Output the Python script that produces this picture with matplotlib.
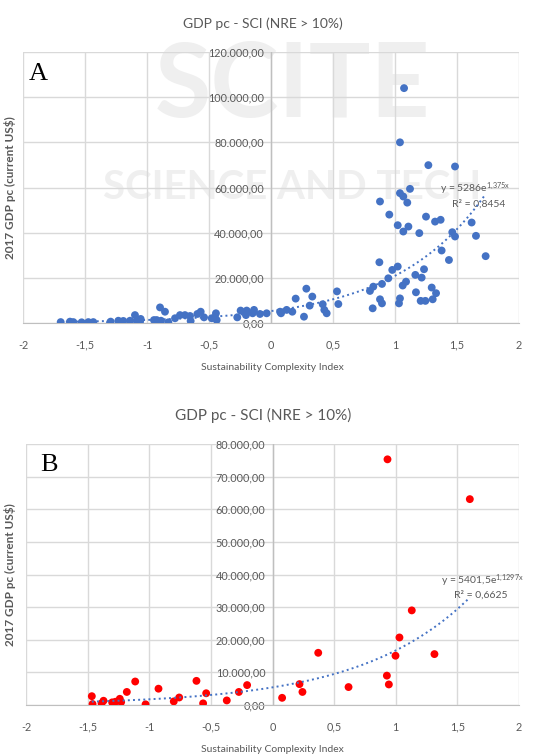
import numpy as np
import matplotlib.pyplot as plt
import matplotlib.transforms as mt
from matplotlib.ticker import FuncFormatter

# Panel A - NRE > 10%, all countries (blue)
sci_a = [1.073, 1.040, 1.269, 1.484, 1.121, 1.040, 1.067, 0.879, 1.099, 0.954,
         1.250, 1.323, 1.368, 1.618, 1.022, 1.108, 1.067, 1.196, 1.462, 1.484,
         1.653, 1.376, 1.435, 1.731, 0.874, 1.022, 0.978, 1.234, 0.946, 1.164,
         1.215, 0.895, 1.089, 1.062, 0.825, 0.798, 1.296, 1.169, 1.331, 1.040,
         0.879, 0.895, 1.032, 1.207, 1.245, 1.304, 0.820, 0.285, 0.333, 0.199,
         0.312, 0.266, 0.532, 0.543, 0.417, 0.430, 0.449, 0.073, 0.081, 0.126,
         0.172, -0.035, -0.089, -0.137, -0.196, -0.245, -0.272, -0.202, -0.148, -0.444,
         -0.452, -0.438, -0.478, -0.567, -0.594, -0.540, -0.653, -0.648, -0.694, -0.734,
         -0.774, -0.855, -0.895, -0.922, -0.887, -0.828, -0.944, -1.051, -1.056, -1.097,
         -1.083, -1.137, -1.191, -1.231, -1.293, -1.298, -1.433, -1.473, -1.527, -1.594,
         -1.621, -1.696]
gdp_a = [104000, 80000, 69900, 69300, 59400, 57500, 56000, 53800, 53300, 48000,
         47100, 44900, 45700, 44500, 43300, 42700, 40500, 39800, 40200, 38300,
         38600, 32100, 27900, 29600, 26900, 25000, 23500, 23800, 19800, 21300,
         20100, 17300, 18300, 16600, 16100, 14200, 15700, 13600, 13200, 10900,
         10500, 8700, 8700, 9800, 9800, 10500, 6500, 15200, 11700, 10800,
         7700, 2800, 14000, 8400, 8300, 5800, 4300, 5000, 4300, 5800,
         5000, 4300, 4000, 5800, 5500, 5500, 2500, 3500, 4300, 4300,
         2500, 1300, 2100, 5000, 4000, 2500, 3100, 900, 3500, 3500,
         2100, 5000, 6900, 1300, 1000, 300, 1300, 1800, 600, 3500,
         1000, 1000, 900, 1000, 600, 100, 400, 400, 300, 400,
         600, 400]

# Panel B - NRE > 10% subset (red)
sci_b = [0.933, 1.601, 1.130, 1.030, 0.371, 1.314, 0.998, 0.928, 0.944, 0.219,
         0.243, 0.617, 0.078, -0.206, -0.273, -0.371, -0.538, -0.563, -0.617, -0.757,
         -0.801, -0.925, -1.030, -1.114, -1.182, -1.239, -1.228, -1.274, -1.301, -1.371,
         -1.387, -1.466, -1.460]
gdp_b = [75300, 63100, 29000, 20700, 16000, 15600, 15100, 9000, 6300, 6400,
         4000, 5500, 2200, 6100, 4000, 1400, 3600, 500, 7400, 2300,
         1100, 5000, 200, 7200, 4000, 1900, 900, 1000, 800, 1300,
         500, 2700, 300]

# exponential trend lines (Excel labels)
fit_a = (5286, 1.375, "0,8454", "y = 5286e$^{1{,}375x}$")
fit_b = (5401.5, 1.1297, "0,6625", "y = 5401,5e$^{1{,}1297x}$")

W, H = 552, 755
plt.rcParams['font.family'] = ['Lato', 'DejaVu Sans']
plt.rcParams['mathtext.fontset'] = 'custom'
plt.rcParams['mathtext.rm'] = 'Lato'
plt.rcParams['mathtext.it'] = 'Lato'
fig = plt.figure(figsize=(W / 100, H / 100), dpi=100)

# faint publisher watermark behind panel A
fig.text(0.53, 0.885, "SCITE", fontsize=74, fontweight='bold', color='#efefef',
         ha='center', va='center', zorder=0)
fig.text(0.53, 0.752, "SCIENCE AND TECH", fontsize=29, fontweight='bold',
         color='#efefef', ha='center', va='center', zorder=0)

grey = '#595959'
grid = '#d9d9d9'


def euro(v, pos):
    s = f"{v:,.2f}"
    return s.replace(',', 'X').replace('.', ',').replace('X', '.')


def panel(rect, xs, ys, color, ymax, ystep, fit, letter, title_y, xlab_y,
          title_size, eq_xy, letter_x):
    ax = fig.add_axes([rect[0] / W, 1 - rect[3] / H, (rect[2] - rect[0]) / W,
                       (rect[3] - rect[1]) / H])
    ax.set_zorder(2)
    ax.patch.set_alpha(0)
    ax.set_xlim(-2, 2)
    ax.set_ylim(0, ymax)
    ax.set_xticks(np.arange(-2, 2.01, 0.5))
    ax.set_yticks(np.arange(0, ymax + 1, ystep))
    ax.xaxis.set_major_formatter(FuncFormatter(
        lambda v, p: f"{v:g}".replace('.', ',')))
    ax.yaxis.set_major_formatter(FuncFormatter(euro))
    ax.grid(True, color=grid, lw=1)
    ax.set_axisbelow(True)
    for s in ['top', 'right', 'left']:
        ax.spines[s].set_visible(False)
    ax.spines['bottom'].set_color('#bfbfbf')
    ax.axvline(0, color='#bfbfbf', lw=1, zorder=1)
    ax.tick_params(length=0, labelsize=7.8, labelcolor=grey)
    ax.xaxis.set_tick_params(pad=12)
    ax.yaxis.set_tick_params(pad=0)
    # y tick labels sit just left of x = 0
    off = (rect[2] - rect[0]) / 2 / 100
    for lbl in ax.get_yticklabels():
        lbl.set_transform(lbl.get_transform() + mt.ScaledTranslation(
            off - 0.07, 0, fig.dpi_scale_trans))

    ax.scatter(xs, ys, s=32, color=color, edgecolor='none', zorder=3)
    a, b, r2, eq = fit
    xx = np.linspace(min(xs), max(xs), 200)
    ax.plot(xx, a * np.exp(b * xx), ls=':', color='#4472c4', lw=1.4, zorder=4)

    ax.text(eq_xy[0], eq_xy[1], eq, transform=ax.transData, fontsize=7.5,
            color=grey, ha='left', va='center', clip_on=False)
    ax.text(eq_xy[0] + 0.1, eq_xy[1] - ymax * 0.055, "R² = " + r2,
            transform=ax.transData, fontsize=7.5, color=grey, ha='left',
            va='center', clip_on=False)

    ax.text(letter_x, 0.92, letter, transform=ax.transAxes, fontsize=19,
            family='Liberation Serif', va='center', ha='left')
    ax.set_ylabel("2017 GDP pc (current US$)", fontsize=8.5, color=grey,
                  fontweight='bold')
    ax.yaxis.set_label_coords(-(rect[0] - 16) / (rect[2] - rect[0]), 0.5)
    fig.text(263 / W, 1 - title_y / H, "GDP pc - SCI (NRE > 10%)",
             fontsize=title_size, color=grey, ha='center', va='center')
    fig.text(272 / W, 1 - xlab_y / H, "Sustainability Complexity Index",
             fontsize=7.5, color=grey, ha='center', va='center')
    return ax


panel((23, 52, 519, 323), sci_a, gdp_a, '#4472c4', 120000, 20000, fit_a, 'A',
      24, 368, 10, (1.36, 59500), 0.012)
panel((26, 444, 519, 705), sci_b, gdp_b, '#ff0000', 80000, 10000, fit_b, 'B',
      415, 750, 11, (1.37, 38000), 0.028)

fig.savefig('out.png', dpi=100)
